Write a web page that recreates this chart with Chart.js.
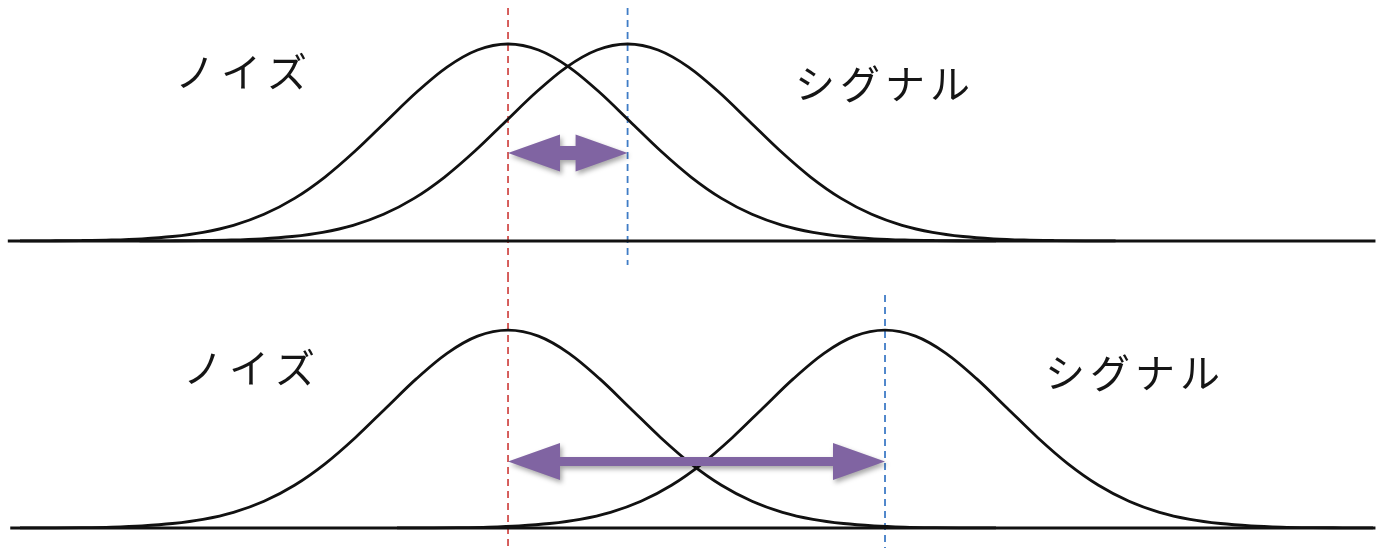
<!DOCTYPE html>
<html lang="ja">
<head>
<meta charset="utf-8">
<title>ノイズとシグナル</title>
<script src="https://cdn.jsdelivr.net/npm/chart.js@4.4.1/dist/chart.umd.min.js"></script>
<style>
  html, body { margin: 0; padding: 0; background: #fff; }
  .wrap { position: relative; width: 1379px; height: 550px; overflow: hidden; }
  .panel { position: absolute; left: 0; width: 1379px; height: 275px; }
  #topPanel { top: 0; }
  #bottomPanel { top: 275px; }
</style>
</head>
<body>
<div class="wrap">
  <canvas id="topPanel" class="panel" width="1379" height="275"></canvas>
  <canvas id="bottomPanel" class="panel" width="1379" height="275"></canvas>
</div>
<script>
// ============================================
// Noise vs signal distributions (d' comparison)
// ============================================

// distance from each mean, in standard deviations
const offsets = [-4, -3.75, -3.5, -3.25, -3, -2.75, -2.5, -2.25, -2, -1.75, -1.5, -1.25, -1, -0.75, -0.5, -0.25,
                 0, 0.25, 0.5, 0.75, 1, 1.25, 1.5, 1.75, 2, 2.25, 2.5, 2.75, 3, 3.25, 3.5, 3.75, 4];
// curve height at each offset
const density = [0.0001, 0.0004, 0.0009, 0.002, 0.0044, 0.0091, 0.0175, 0.0317, 0.054, 0.0863, 0.1295, 0.1826, 0.242, 0.3011, 0.3521, 0.3867,
                 0.3989, 0.3867, 0.3521, 0.3011, 0.242, 0.1826, 0.1295, 0.0863, 0.054, 0.0317, 0.0175, 0.0091, 0.0044, 0.002, 0.0009, 0.0004, 0.0001];

// means of each panel (noise always at 0)
const noiseMeans  = [0, 0];
const signalMeans = [0.98, 3.09];
// height where the separation arrow sits
const arrowLevels = [0.178, 0.134];

const labels = ['ノイズ', 'シグナル'];

const X_MIN = -4.164, X_MAX = 7.139;

const panels = [
  { id: 'topPanel',    yMin: -0.0689, yMax: 0.488, base: [-4.1, 7.11],  red: [0.472, -0.0689], blue: [0.472, -0.0486],
    shaft: 7,   noiseLabel: [175, 72],  signalLabel: [795, 84] },
  { id: 'bottomPanel', yMin: -0.0443, yMax: 0.510, base: [-4.08, 7.11], red: [0.510, -0.0443], blue: [0.4696, -0.0403],
    shaft: 4.5, noiseLabel: [183, 93],  signalLabel: [1045, 98] }
];

function curve(mean) {
  return offsets.map((o, i) => ({ x: mean + o, y: density[i] }));
}

function guide(x, span) {
  return [{ x, y: span[0] }, { x, y: span[1] }];
}

// double-headed block arrow between the two means
const arrowPlugin = {
  id: 'separationArrow',
  afterDatasetsDraw(chart, args, opts) {
    const { ctx, scales: { x, y } } = chart;
    const x0 = x.getPixelForValue(opts.from);
    const x1 = x.getPixelForValue(opts.to);
    const cy = y.getPixelForValue(opts.level);
    const head = 52, half = 18.5, sh = opts.shaft;
    ctx.save();
    ctx.shadowColor = 'rgba(0,0,0,0.35)';
    ctx.shadowBlur = 5;
    ctx.shadowOffsetX = 2;
    ctx.shadowOffsetY = 3;
    ctx.fillStyle = '#8064a2';
    ctx.beginPath();
    ctx.moveTo(x0, cy);
    ctx.lineTo(x0 + head, cy - half);
    ctx.lineTo(x0 + head, cy - sh);
    ctx.lineTo(x1 - head, cy - sh);
    ctx.lineTo(x1 - head, cy - half);
    ctx.lineTo(x1, cy);
    ctx.lineTo(x1 - head, cy + half);
    ctx.lineTo(x1 - head, cy + sh);
    ctx.lineTo(x0 + head, cy + sh);
    ctx.lineTo(x0 + head, cy + half);
    ctx.closePath();
    ctx.fill();
    ctx.restore();
  }
};

// katakana captions, spaced out one glyph at a time
const captionPlugin = {
  id: 'captions',
  afterDraw(chart, args, opts) {
    const { ctx } = chart;
    ctx.save();
    ctx.fillStyle = '#151515';
    ctx.font = '40px "Noto Sans CJK JP", sans-serif';
    ctx.textBaseline = 'middle';
    ctx.textAlign = 'left';
    opts.items.forEach(item => {
      [...item.text].forEach((ch, i) => ctx.fillText(ch, item.x + i * item.pitch, item.y));
    });
    ctx.restore();
  }
};

panels.forEach((p, i) => {
  const lineStyle = { borderColor: '#111', borderWidth: 2.8, pointRadius: 0, fill: false, cubicInterpolationMode: 'monotone' };
  new Chart(document.getElementById(p.id), {
    type: 'line',
    data: {
      datasets: [
        { data: [{ x: p.base[0], y: 0 }, { x: p.base[1], y: 0 }], borderColor: '#111', borderWidth: 3, pointRadius: 0 },
        { ...lineStyle, data: curve(noiseMeans[i]) },
        { ...lineStyle, data: curve(signalMeans[i]) },
        { data: guide(noiseMeans[i], p.red),   borderColor: '#d24f4c', borderWidth: 1.8, borderDash: [7, 5], pointRadius: 0 },
        { data: guide(signalMeans[i], p.blue), borderColor: '#3f7cc6', borderWidth: 1.8, borderDash: [7, 5], pointRadius: 0 }
      ]
    },
    options: {
      responsive: false,
      animation: false,
      layout: { padding: 0 },
      plugins: {
        legend: { display: false },
        tooltip: { enabled: false },
        separationArrow: { from: noiseMeans[i], to: signalMeans[i], level: arrowLevels[i], shaft: p.shaft },
        captions: {
          items: [
            { text: labels[0], x: p.noiseLabel[0],  y: p.noiseLabel[1],  pitch: 46 },
            { text: labels[1], x: p.signalLabel[0], y: p.signalLabel[1], pitch: 45 }
          ]
        }
      },
      scales: {
        x: { type: 'linear', min: X_MIN, max: X_MAX, display: false },
        y: { type: 'linear', min: p.yMin, max: p.yMax, display: false }
      }
    },
    plugins: [arrowPlugin, captionPlugin]
  });
});
</script>
</body>
</html>
